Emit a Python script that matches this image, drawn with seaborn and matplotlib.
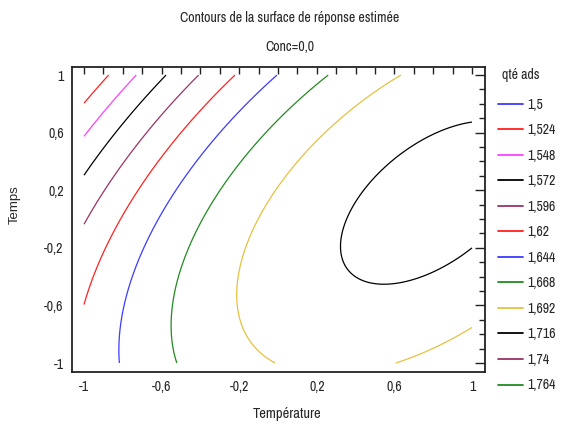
import numpy as np
import matplotlib
matplotlib.use("Agg")
import matplotlib.pyplot as plt
import seaborn as sns
from matplotlib.lines import Line2D
from matplotlib.ticker import FixedLocator

sns.set_style("white")
plt.rcParams['font.family'] = ['Liberation Sans Narrow', 'Archivo Narrow', 'Liberation Sans', 'DejaVu Sans']

# contour levels and their colours (legend "qté ads")
levels = [1.5, 1.524, 1.548, 1.572, 1.596, 1.62, 1.644, 1.668, 1.692, 1.716, 1.74, 1.764]
level_labels = ["1,5", "1,524", "1,548", "1,572", "1,596", "1,62", "1,644", "1,668",
                "1,692", "1,716", "1,74", "1,764"]
level_colors = ["#3b3bff", "#ff2020", "#ff40ff", "#000000", "#993366", "#ff2020",
                "#3b3bff", "#218b21", "#e8c040", "#000000", "#993366", "#218b21"]

# estimated response surface (quadratic model), Conc = 0
# terms: const, Temp, Temps, Temp^2, Temps^2, Temp*Temps
coef_names = ["const", "T", "t", "T2", "t2", "Tt"]
coef_values = [1.69891, 0.06316, -0.02391, -0.04196, -0.03044, 0.03831]

# axis ticks
ticks = [-1, -0.6, -0.2, 0.2, 0.6, 1]
tick_labels = ["-1", "-0,6", "-0,2", "0,2", "0,6", "1"]

xs = np.linspace(-1, 1, 301)
ys = np.linspace(-1, 1, 301)
X, Y = np.meshgrid(xs, ys)
c = dict(zip(coef_names, coef_values))
Z = (c["const"] + c["T"]*X + c["t"]*Y + c["T2"]*X**2 + c["t2"]*Y**2 + c["Tt"]*X*Y)

fig = plt.figure(figsize=(5.62, 4.28), dpi=100)
ax = fig.add_axes([72/562, 1-372/428, (485-72)/562, (372-67)/428])
ax.contour(X, Y, Z, levels=levels, colors=level_colors, linewidths=0.9)

ax.set_xlim(-1.062, 1.067)
ax.set_ylim(-1.0625, 1.056)
ax.xaxis.set_major_locator(FixedLocator(ticks))
ax.yaxis.set_major_locator(FixedLocator(ticks))
ax.set_xticklabels(tick_labels)
ax.set_yticklabels(tick_labels)
minor = np.round(np.arange(-1, 1.01, 0.1), 2)
ax.xaxis.set_minor_locator(FixedLocator(minor))
ax.yaxis.set_minor_locator(FixedLocator(minor))
ax.tick_params(axis='both', which='both', direction='in', top=True, right=True,
               labelsize=10, color='#222222', width=1.0, pad=6)
ax.tick_params(axis='x', which='major', length=5)
ax.tick_params(axis='x', which='minor', length=5)
ax.tick_params(axis='y', which='major', length=7)
ax.tick_params(axis='y', which='minor', length=4)
for s in ax.spines.values():
    s.set_color('#222222'); s.set_linewidth(1.3)

ax.set_xlabel("Température", fontsize=10.5)
ax.xaxis.set_label_coords((287-72)/413, -(407-372)/305)
ax.set_ylabel("Temps", fontsize=9.5, family=['Liberation Sans', 'DejaVu Sans'])
ax.yaxis.set_label_coords(-(72-21)/413, (372-205)/305)
fig.text(290/562, 1-18/428, "Contours de la surface de réponse estimée", ha='center', va='center', fontsize=10)
fig.text(290/562, 1-47/428, "Conc=0,0", ha='center', va='center', fontsize=10)

fig.text(521/562, 1-75/428, "qté ads", ha='center', va='center', fontsize=10)
handles = [Line2D([0], [0], color=col, lw=1.3) for col in level_colors]
fig.legend(handles, level_labels, loc='upper left',
           bbox_to_anchor=(492/562, 1-92/428), frameon=False, fontsize=10,
           handlelength=1.8, labelspacing=0.83, handletextpad=0.36,
           borderaxespad=0)

fig.savefig("out.png", dpi=100)
